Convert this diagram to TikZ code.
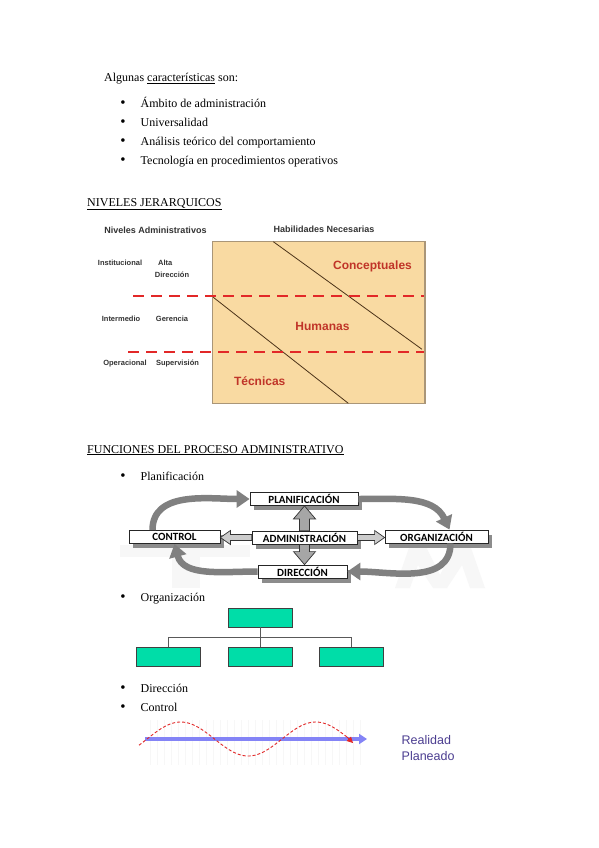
\documentclass[tikz,border=0pt]{standalone}
\usepackage{fontspec}
\setmainfont{Liberation Serif}
\setsansfont{Liberation Sans}
\newfontfamily\calib{Carlito}
\usetikzlibrary{arrows.meta,shadows,calc}
\definecolor{beige}{RGB}{249,218,162}
\definecolor{beigeb}{RGB}{170,150,120}
\definecolor{darkred}{RGB}{192,52,40}
\definecolor{dashred}{RGB}{226,40,40}
\definecolor{cycgray}{RGB}{128,128,128}
\definecolor{orggreen}{RGB}{0,221,168}
\definecolor{planblue}{RGB}{132,132,246}
\definecolor{labblue}{RGB}{76,62,145}
\tikzset{
  body/.style={anchor=base west, inner sep=0pt, font=\fontsize{12}{14}\selectfont},
  bul/.style={anchor=base, inner sep=0pt, font=\fontsize{15}{16}\selectfont},
  hdr/.style={inner sep=0pt, font=\sffamily\bfseries\fontsize{9}{10}\selectfont, text=black!80},
  lvl/.style={inner sep=0pt, font=\sffamily\bfseries\fontsize{7.5}{8}\selectfont, text=black!80},
  skill/.style={inner sep=0pt, font=\sffamily\bfseries\fontsize{12}{13}\selectfont, text=darkred},
  reddash/.style={draw=dashred, line width=2.6pt, dash pattern=on 11pt off 7pt},
  diag/.style={draw=black!60!brown, line width=0.8pt},
  cbox/.style={draw=black!85, fill=white, line width=0.8pt, inner sep=0pt,
    minimum height=13pt, font=\calib\bfseries\fontsize{11}{11}\selectfont,
    drop shadow={shadow xshift=3.5pt, shadow yshift=-4.5pt, fill=black!45, opacity=1}},
  cyc/.style={draw=cycgray, line width=6.5pt, -{Triangle[width=17pt,length=13pt]}},
  barrow/.style={draw=black!80, fill=black!35, line width=0.7pt, line join=miter},
  obox/.style={draw=black!75, fill=orggreen, line width=0.8pt, minimum width=64pt, minimum height=19pt, inner sep=0pt},
  oline/.style={draw=black!65, line width=0.8pt},
  wm/.style={fill=black!3, draw=none}
}
\begin{document}
\begin{tikzpicture}[x=1pt,y=-1pt]
\useasboundingbox[fill=white] (0,0) rectangle (599,848);

% --- intro text
\node[body] (intro) at (104,82) {Algunas \underline{características} son:};
\foreach \yy/\tt [count=\i] in {108/Ámbito de administración,126/Universalidad,145/Análisis teórico del comportamiento,164/Tecnología en procedimientos operativos}{
  \node[bul] (b\i) at (123,\yy) {\textbullet};
  \node[body] (it\i) at (140.5,\yy) {\tt};
}

% --- Niveles jerarquicos
\node[body] (h1) at (87,206) {\underline{NIVELES JERARQUICOS}};
\node[hdr] (nadm) at (155.5,230.5) {Niveles Administrativos};
\node[hdr] (hnec) at (324,229) {Habilidades Necesarias};
\path[fill=beige, draw=beigeb, line width=1.3pt] (212.7,241.7) rectangle (425,403.3);
\coordinate (d1a) at (273.3,241.7);
\coordinate (d1b) at (422,349.3);
\coordinate (d2a) at (213.3,297.3);
\coordinate (d2b) at (348.3,403.3);
\draw[diag] (d1a) -- (d1b);
\draw[diag] (d2a) -- (d2b);
\coordinate (r1a) at (133,296);
\coordinate (r1b) at (424,296);
\coordinate (r2a) at (128,352);
\coordinate (r2b) at (424,352);
\draw[reddash] (r1a) -- (r1b);
\draw[reddash] (r2a) -- (r2b);
\node[lvl] (inst) at (120,263.3) {Institucional};
\node[lvl] (alta) at (165.3,262.5) {Alta};
\node[lvl] (adir) at (172,275) {Dirección};
\node[lvl] (inter) at (121,319.3) {Intermedio};
\node[lvl] (ger) at (172,319.3) {Gerencia};
\node[lvl] (oper) at (125,364) {Operacional};
\node[lvl] (sup) at (177.5,364) {Supervisión};
\node[skill] (conc) at (372.5,266) {Conceptuales};
\node[skill] (hum) at (322.5,326.5) {Humanas};
\node[skill] (tec) at (259.7,381) {Técnicas};

% --- Funciones
\node[body] (h2) at (87,453) {\underline{FUNCIONES DEL PROCESO ADMINISTRATIVO}};
\node[bul] (b5) at (123,480) {\textbullet};
\node[body] (it5) at (140.5,480) {Planificación};

% watermark
\path[wm] (120,545) rectangle (250,557);
\path[wm] (172,557) rectangle (200,588);
\path[wm] (395,588) -- (410,545) -- (425,545) -- (440,575) -- (455,545) -- (470,545) -- (485,588) -- (470,588) -- (462,565) -- (447,588) -- (433,588) -- (418,565) -- (410,588) -- cycle;

\node[cbox, minimum width=108pt] (plan) at (304,499) {PLANIFICACIÓN};
\node[cbox, minimum width=91pt] (ctrl) at (174.5,537) {CONTROL};
\node[cbox, minimum width=105pt] (adm) at (304.5,537.5) {ADMINISTRACIÓN};
\node[cbox, minimum width=103pt] (org) at (436.5,536.5) {ORGANIZACIÓN};
\node[cbox, minimum width=89pt] (dir) at (302.5,571.5) {DIRECCIÓN};

% cycle arrows
\draw[cyc] ([xshift=-22pt]ctrl.north) to[out=90,in=180] (plan.west);
\draw[cyc] (plan.east) to[out=0,in=115] ([xshift=13pt]org.north);
\draw[cyc] ([xshift=14pt]org.south) to[out=-90,in=0] (dir.east);
\draw[cyc] (dir.west) to[out=180,in=-75] ([xshift=0pt]ctrl.south);

% central block arrows
\coordinate (up) at (adm.north |- plan.south);
\draw[barrow] ($(adm.north)+(-5,0)$) -- ($(up)+(-5,13)$) -- ($(up)+(-11,13)$) -- (up) -- ($(up)+(11,13)$) -- ($(up)+(5,13)$) -- ($(adm.north)+(5,0)$) -- cycle;
\coordinate (dn) at (adm.south |- dir.north);
\draw[barrow] ($(adm.south)+(-5,0)$) -- ($(dn)+(-5,-13)$) -- ($(dn)+(-11,-13)$) -- (dn) -- ($(dn)+(11,-13)$) -- ($(dn)+(5,-13)$) -- ($(adm.south)+(5,0)$) -- cycle;
\coordinate (lf) at (ctrl.east |- adm.west);
\draw[barrow, fill=black!20] ($(adm.west)+(0,-3)$) -- ($(lf)+(10,-3)$) -- ($(lf)+(10,-7)$) -- (lf) -- ($(lf)+(10,7)$) -- ($(lf)+(10,3)$) -- ($(adm.west)+(0,3)$) -- cycle;
\coordinate (rt) at (org.west |- adm.east);
\draw[barrow, fill=black!20] ($(adm.east)+(0,-3)$) -- ($(rt)+(-10,-3)$) -- ($(rt)+(-10,-7)$) -- (rt) -- ($(rt)+(-10,7)$) -- ($(rt)+(-10,3)$) -- ($(adm.east)+(0,3)$) -- cycle;

% --- Organizacion
\node[bul] (b6) at (123,601) {\textbullet};
\node[body] (it6) at (140.5,601) {Organización};
\node[obox] (top) at (260,617.5) {};
\node[obox] (c1) at (168.5,656.5) {};
\node[obox] (c2) at (260,656.5) {};
\node[obox] (c3) at (351,656.5) {};
\coordinate (jn) at (260,637);
\draw[oline] (top.south) -- (jn);
\draw[oline] (jn) -| (c1.north);
\draw[oline] (jn) -- (c2.north);
\draw[oline] (jn) -| (c3.north);

% --- Direccion / Control
\node[bul] (b7) at (123,692) {\textbullet};
\node[body] (it7) at (140.5,692) {Dirección};
\node[bul] (b8) at (123,711) {\textbullet};
\node[body] (it8) at (140.5,711) {Control};

\foreach \gx in {150,157,...,362}{\draw[black!3, line width=0.4pt] (\gx,720) -- (\gx,765);}
\coordinate (ps) at (145,739);
\coordinate (pe) at (367,739);
\draw[planblue, line width=3.2pt, -{Triangle[length=8pt,width=10pt]}] (ps) -- (pe);
\draw[dashred, line width=0.9pt, dash pattern=on 3pt off 2pt] plot[domain=139:349, samples=120] (\x,{739-17*sin((\x-147)*2.6667)});
\coordinate (ra) at (347,737);
\coordinate (rb) at (353,743);
\draw[dashred, line width=0.9pt, -{Triangle[length=6pt,width=6pt]}] (ra) -- (rb);
\node[anchor=west, inner sep=0pt, font=\sffamily\fontsize{12.5}{13}\selectfont, text=labblue] (real) at (401.5,740.5) {Realidad};
\node[anchor=west, inner sep=0pt, font=\sffamily\fontsize{12.5}{13}\selectfont, text=labblue] (plane) at (401.5,756.5) {Planeado};
\end{tikzpicture}
\end{document}
